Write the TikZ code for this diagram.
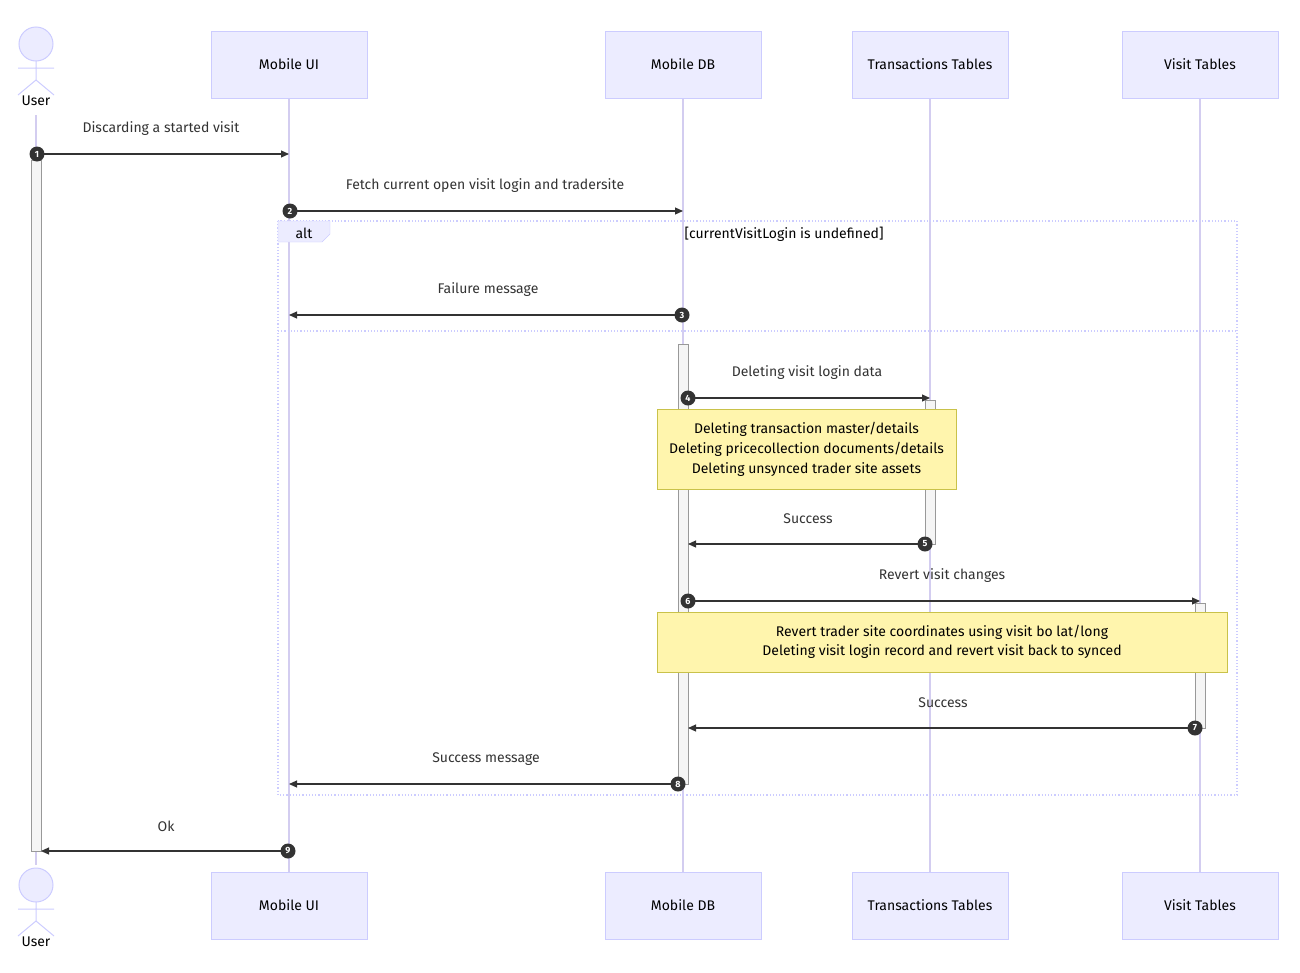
\documentclass[tikz,border=0pt]{standalone}
\usepackage{fontspec}
\setmainfont{Fira Sans}
\usetikzlibrary{arrows.meta}
\definecolor{boxf}{HTML}{ECECFF}
\definecolor{boxd}{HTML}{CCCCFF}
\definecolor{life}{HTML}{D3CDF0}
\definecolor{notef}{HTML}{FFF5AD}
\definecolor{noted}{HTML}{C9C24A}
\definecolor{txt}{HTML}{333333}
\begin{document}
\begin{tikzpicture}[x=1pt,y=-1pt,font=\fontsize{14}{17}\selectfont,
 actor/.style={draw=boxd,fill=boxf,minimum width=156pt,minimum height=67pt,inner sep=0pt,text=black},
 lifeline/.style={draw=life,line width=1.2pt},
 act/.style={draw=gray!80,fill=black!4},
 msg/.style={draw=txt,line width=1.1pt,-{Triangle[length=8pt,width=7pt]}},
 lbl/.style={text=txt,inner sep=0pt},
 num/.style={circle,fill=txt,text=white,inner sep=0pt,minimum size=15pt,font=\fontsize{9}{9}\bfseries\selectfont},
 note/.style={draw=noted,fill=notef,align=center,text=black,font=\fontsize{14}{20}\selectfont},
 fig/.style={draw=boxd,fill=boxf,line width=1pt}]
\useasboundingbox (0,0) rectangle (1300,972);
% lifelines
\draw[lifeline] (36,115) -- (36,865);
\foreach \x in {289,683,930,1200} \draw[lifeline] (\x,98) -- (\x,872);
% alt box
\draw[draw=boxd,dotted,line width=1.2pt] (278,221) rectangle (1237,795);
\draw[draw=boxd,dotted,line width=1.2pt] (278,331) -- (1237,331);
\draw[fill=boxf,draw=boxd] (278,221) -- (330,221) -- (330,234) -- (322,242) -- (278,242) -- cycle;
\node[lbl,text=black] (alt) at (304,233) {alt};
\node[lbl,text=black] (cond) at (784,234) {[currentVisitLogin is undefined]};
% actors
\foreach \n/\x/\t in {ui/289/Mobile UI,db/683/Mobile DB,tt/930/Transactions Tables,vt/1200/Visit Tables}{
 \node[actor] (\n top) at (\x,64.5) {\t};
 \node[actor] (\n bot) at (\x,905.5) {\t};}
\foreach \y/\n in {0/utop,841/ubot}{
 \begin{scope}[yshift=-\y pt]
 \draw[fig] (36,44) circle (17);
 \draw[draw=boxd,line width=1pt] (36,61) -- (36,80) (18,68) -- (54,68) (36,80) -- (18,95) (36,80) -- (54,95);
 \end{scope}}
\node[lbl,text=black] (userT) at (36,101) {User};
\node[lbl,text=black] (userB) at (36,942) {User};
% activations
\draw[act] (31,160) rectangle (41,851);
\draw[act] (678,344) rectangle (688,784);
\draw[act] (925,400) rectangle (935,544);
\draw[act] (1195,603) rectangle (1205,728);
% notes
\node[note,minimum width=299pt,minimum height=80pt] (n1) at (806.5,449) {Deleting transaction master/details\\Deleting pricecollection documents/details\\Deleting unsynced trader site assets};
\node[note,minimum width=570pt,minimum height=60pt,font=\fontsize{14}{19}\selectfont] (n2) at (942,642) {Revert trader site coordinates using visit bo lat/long\\Deleting visit login record and revert visit back to synced};
% messages
\foreach \i/\a/\b/\y/\lx/\t in {
 1/37/289/154/161/Discarding a started visit,
 2/290/683/211/485/Fetch current open visit login and tradersite,
 3/682/289/315/488/Failure message,
 4/688/930/398/807/Deleting visit login data,
 5/925/688/544/808/Success,
 6/688/1200/601/942/Revert visit changes,
 7/1195/688/728/943/Success,
 8/678/289/784/486/Success message,
 9/288/41/851/166/Ok}{
 \coordinate (s\i) at (\a,\y);
 \coordinate (e\i) at (\b,\y);
 \draw[msg] (s\i) -- (e\i);
 \node[lbl] (l\i) at (\lx,\y-25) {\t};
 \node[num] (c\i) at (s\i) {\i};}
\end{tikzpicture}
\end{document}
